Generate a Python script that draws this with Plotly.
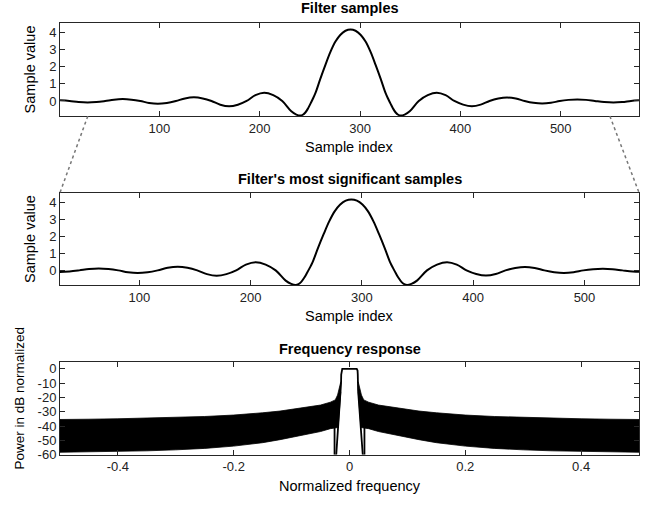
import plotly.graph_objects as go

# ---------------- data ----------------
# Filter samples (sample index, value)
SAMPLE_IDX = [1, 10.5, 19.5, 28.5, 37.25, 46, 54.75, 63.5, 72.25, 81, 89.75, 98.5,
              107.5, 116.5, 125.5, 134.5, 143.25, 152, 160.75, 169.5, 178.25, 187,
              195.75, 204.5, 213.5, 222.5, 231.5, 236.5, 240.5,
              243, 245.5, 248, 250.5, 253, 255.5, 260.5, 265.5, 270.5, 275.5, 280.5,
              285.5, 290.5, 295.5, 300.5, 305.5, 310.5, 315.5, 320.5, 325.5, 328,
              330.5, 333, 335.5, 338, 340.5, 344.5,
              349.5, 358.5, 367.5, 376.5, 385.25, 394, 402.75, 411.5, 420.25, 429,
              437.75, 446.5, 455.25, 464, 472.75, 481.5, 490.25, 499, 507.75, 516.5,
              525.25, 534, 543.25, 552.5, 561.25, 570, 578]
SAMPLE_VAL = [0.04, 0.0, -0.065, -0.09, -0.065, 0.0, 0.078, 0.11, 0.078, 0.0, -0.113, -0.16,
              -0.113, 0.0, 0.15, 0.21, 0.15, 0.0, -0.22, -0.31, -0.22, 0.0,
              0.34, 0.48, 0.34, 0.0, -0.6, -0.79, -0.85,
              -0.80, -0.67, -0.45, -0.17, 0.13, 0.45, 1.3, 2.1, 2.85, 3.45, 3.85,
              4.08, 4.15, 4.08, 3.85, 3.45, 2.85, 2.1, 1.3, 0.45, 0.13,
              -0.17, -0.45, -0.67, -0.80, -0.85, -0.79,
              -0.6, 0.0, 0.34, 0.48, 0.34, 0.0, -0.21, -0.30, -0.21, 0.0,
              0.14, 0.20, 0.14, 0.0, -0.106, -0.15, -0.106, 0.0, 0.064, 0.09,
              0.064, 0.0, -0.064, -0.09, -0.064, 0.0, 0.04]

FULL_RANGE = [1, 578]
ZOOM_RANGE = [28.7, 549]
VAL_RANGE = [-0.88, 4.55]
VAL_TICKS = [0, 1, 2, 3, 4]
IDX_TICKS = [100, 200, 300, 400, 500]

# Frequency response: envelope of the dense oscillation (positive-frequency side)
ENV_FREQ = [0.0150, 0.0160, 0.0177, 0.0197, 0.0206, 0.0246, 0.033, 0.05, 0.085,
            0.12, 0.15, 0.2, 0.25, 0.3, 0.35, 0.4, 0.45, 0.5]
ENV_UPPER = [-9.0, -10.5, -12.5, -16.5, -18.3, -21.7, -23.3, -25.3, -27.4,
             -29.5, -30.7, -32.3, -33.3, -34.0, -34.5, -34.9, -35.2, -35.4]
ENV_LOWER = [-16.0, -21.4, -30.4, -41.0, -41.1, -41.2, -41.8, -43.8, -46.5,
             -49.5, -51.6, -54.0, -55.6, -56.6, -57.3, -57.8, -58.1, -58.3]
# passband / transition curve
MAIN_FREQ = [-0.0229, -0.0148, -0.0146, -0.0143, -0.0139, -0.0133, -0.0125,
             0.0125, 0.0133, 0.0139, 0.0143, 0.0146, 0.0148, 0.0229]
MAIN_DB = [-60, -15, -10, -4, -1.2, -0.3, 0, 0, -0.3, -1.2, -4, -10, -15, -60]
SPIKE_FREQ = [-0.0258, 0.0258]
SPIKE_TOP = [-41.2, -41.2]
SPIKE_BOTTOM = -60
FREQ_RANGE = [-0.5, 0.5]
DB_RANGE = [-60, 5]
DB_TICKS = [0, -10, -20, -30, -40, -50, -60]
DB_TICKTEXT = ["0", "-10", "-20", "-30", "-40", "-50", "-60"]
FREQ_TICKS = [-0.4, -0.2, 0, 0.2, 0.4]
FREQ_TICKTEXT = ["-0.4", "-0.2", "0", "0.2", "0.4"]

# ---------------- layout geometry ----------------
W, H = 654, 506
XDOM = [60 / W, 639 / W]
def ydom(top_px, bot_px):
    return [1 - bot_px / H, 1 - top_px / H]
Y1 = ydom(23, 118)
Y2 = ydom(195.7, 290)
Y3 = ydom(367.5, 462)

FONT = "Liberation Sans, Arial, Helvetica, sans-serif"
FRAME = "#262626"

fig = go.Figure()

line_style = dict(color="black", width=2, shape="spline", smoothing=1.0)
fig.add_trace(go.Scatter(x=SAMPLE_IDX, y=SAMPLE_VAL, mode="lines", line=line_style,
                         xaxis="x", yaxis="y", showlegend=False, hoverinfo="skip"))
fig.add_trace(go.Scatter(x=SAMPLE_IDX, y=SAMPLE_VAL, mode="lines", line=line_style,
                         xaxis="x2", yaxis="y2", showlegend=False, hoverinfo="skip"))

# dense oscillation band (filled between envelopes), both sides
for sign in (-1, 1):
    fx = [sign * f for f in ENV_FREQ] + [sign * f for f in reversed(ENV_FREQ)]
    fy = list(ENV_UPPER) + list(reversed(ENV_LOWER))
    fig.add_trace(go.Scatter(x=fx, y=fy, mode="lines", fill="toself",
                             fillcolor="black", line=dict(color="black", width=0.8),
                             xaxis="x3", yaxis="y3", showlegend=False, hoverinfo="skip"))

fig.add_trace(go.Scatter(x=MAIN_FREQ, y=MAIN_DB, mode="lines",
                         line=dict(color="black", width=1.8),
                         xaxis="x3", yaxis="y3", showlegend=False, hoverinfo="skip"))
sx, sy = [], []
for f, t in zip(SPIKE_FREQ, SPIKE_TOP):
    sx += [f, f, None]
    sy += [t, SPIKE_BOTTOM, None]
fig.add_trace(go.Scatter(x=sx, y=sy, mode="lines", line=dict(color="black", width=1.8),
                         xaxis="x3", yaxis="y3", showlegend=False, hoverinfo="skip"))

axis_common = dict(showline=True, linecolor=FRAME, linewidth=1, mirror="ticks",
                   ticks="inside", ticklen=5, tickcolor=FRAME, tickwidth=1,
                   showgrid=False, zeroline=False,
                   tickfont=dict(family=FONT, size=13, color="#222"))

fig.update_layout(
    width=W, height=H,
    margin=dict(l=0, r=0, t=0, b=0),
    paper_bgcolor="white", plot_bgcolor="white",
    xaxis=dict(domain=XDOM, range=FULL_RANGE, tickvals=IDX_TICKS, anchor="y", **axis_common),
    yaxis=dict(domain=Y1, range=VAL_RANGE, tickvals=VAL_TICKS, anchor="x", **axis_common),
    xaxis2=dict(domain=XDOM, range=ZOOM_RANGE, tickvals=IDX_TICKS, anchor="y2", **axis_common),
    yaxis2=dict(domain=Y2, range=VAL_RANGE, tickvals=VAL_TICKS, anchor="x2", **axis_common),
    xaxis3=dict(domain=XDOM, range=FREQ_RANGE, tickvals=FREQ_TICKS, ticktext=FREQ_TICKTEXT,
                anchor="y3", **axis_common),
    yaxis3=dict(domain=Y3, range=DB_RANGE, tickvals=DB_TICKS, ticktext=DB_TICKTEXT,
                anchor="x3", **axis_common),
)

def ann(text, xpx, ypx, size=14.5, bold=False, angle=0):
    fig.add_annotation(text=f"<b>{text}</b>" if bold else text,
                       x=xpx / W, y=1 - ypx / H, xref="paper", yref="paper",
                       xanchor="center", yanchor="middle", showarrow=False,
                       textangle=angle, font=dict(family=FONT, size=size, color="black"))

cx = (60 + 639) / 2
ann("Filter samples", cx, 8.5, bold=True)
ann("Sample index", cx, 149)
ann("Sample value", 30, (23 + 118) / 2, angle=-90)
ann("Filter's most significant samples", cx, 182, bold=True)
ann("Sample index", cx, 321.5)
ann("Sample value", 30, (195.7 + 290) / 2, angle=-90)
ann("Frequency response", cx, 355, bold=True)
ann("Normalized frequency", cx, 493.5)
ann("Power in dB normalized", 20, 405, size=13.5, angle=-90)

# dotted connectors from zoomed region of the top plot to the middle plot
def xpaper_top(v):
    return XDOM[0] + (v - FULL_RANGE[0]) / (FULL_RANGE[1] - FULL_RANGE[0]) * (XDOM[1] - XDOM[0])
for v, xend in ((ZOOM_RANGE[0], XDOM[0]), (ZOOM_RANGE[1], XDOM[1])):
    fig.add_shape(type="line", xref="paper", yref="paper",
                  x0=xpaper_top(v), y0=Y1[0], x1=xend, y1=Y2[1],
                  line=dict(color="#777", width=1.5, dash="dot"))

fig.write_html("out.html")
